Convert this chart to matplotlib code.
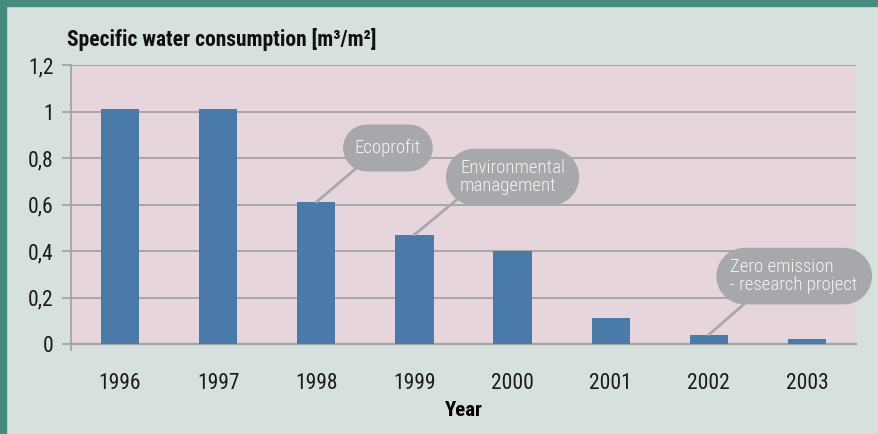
import matplotlib
matplotlib.use("Agg")
import matplotlib.pyplot as plt
from matplotlib.patches import Rectangle
from matplotlib.path import Path
import numpy as np

plt.rcParams['font.family'] = ['Roboto Condensed', 'IBM Plex Sans Condensed', 'DejaVu Sans']

# data
years = ["1996", "1997", "1998", "1999", "2000", "2001", "2002", "2003"]
consumption = [1.01, 1.01, 0.61, 0.47, 0.40, 0.11, 0.04, 0.02]
y_ticks = [0, 0.2, 0.4, 0.6, 0.8, 1.0, 1.2]
y_tick_labels = ["0", "0,2", "0,4", "0,6", "0,8", "1", "1,2"]
events = ["Ecoprofit", "Environmental\nmanagement", "Zero emission\n- research project"]
event_years = ["1998", "1999", "2002"]

teal = "#478b7f"
bg = "#d6e0dd"
plot_bg = "#e6d5dc"
bar_color = "#4a7ba8"
grid_gray = "#a3a3a3"
bubble = "#a7a8ab"


def pill(x0, y0, width, height, mutation_size):
    # stadium shaped box around the callout text
    pad_y = 0.55 * mutation_size
    h = max(height + 2 * pad_y, 2.5 * mutation_size)
    yc = y0 + height / 2
    pad_x = 0.25 * h
    w = width + 2 * pad_x
    x0 = x0 - pad_x
    r = h / 2
    t = np.linspace(-np.pi / 2, np.pi / 2, 30)
    right = np.column_stack([x0 + w - r + r * np.cos(t), yc + r * np.sin(t)])
    left = np.column_stack([x0 + r - r * np.cos(t), yc - r * np.sin(t)])
    verts = np.vstack([right, left, right[:1]])
    codes = [Path.MOVETO] + [Path.LINETO] * (len(verts) - 2) + [Path.CLOSEPOLY]
    return Path(verts, codes)


fig = plt.figure(figsize=(8.79, 4.34), dpi=100, facecolor=bg)
# teal frame on top and left
fig.patches.append(Rectangle((0, 1 - 6/434), 1, 6/434, transform=fig.transFigure, color=teal, zorder=0))
fig.patches.append(Rectangle((0, 0), 6/879, 1, transform=fig.transFigure, color=teal, zorder=0))

ax = fig.add_axes([71/879, 1 - 344/434, 785/879, 279/434])
ax.set_facecolor(plot_bg)

x = np.arange(len(years))
ax.bar(x, consumption, width=0.39, color=bar_color, zorder=3)

ax.set_xlim(-0.5, len(years) - 0.5)
ax.set_ylim(0, 1.2)
ax.set_yticks(y_ticks)
ax.set_yticklabels(y_tick_labels, fontsize=15.5, color="#1a1a1a")
ax.set_xticks(x)
ax.set_xticklabels(years, fontsize=15.5, color="#1a1a1a")
ax.tick_params(axis='x', length=0, pad=21)
ax.tick_params(axis='y', length=6.5, width=1.3, color=grid_gray, pad=6)
ax.yaxis.grid(True, color=grid_gray, linewidth=1.3, zorder=1)
ax.set_axisbelow(True)

for s in ['top', 'right']:
    ax.spines[s].set_visible(False)
ax.spines['left'].set_color(grid_gray)
ax.spines['left'].set_linewidth(1.3)
ax.spines['left'].set_bounds(-0.025, 1.2)
ax.spines['bottom'].set_color(grid_gray)
ax.spines['bottom'].set_linewidth(1.6)

ax.set_xlabel("Year", fontsize=15, fontweight='bold', labelpad=5)
fig.text(67/879, 1 - 46/434, "Specific water consumption [m³/m²]", fontsize=15.5,
         fontweight='bold', va='baseline', ha='left', color="#111111")

# callout bubbles
text_pos = [(2.73, 0.843), (4.0, 0.718), (6.87, 0.292)]
rel = [(0.38, 0.5), (0.23, 0.5), (0.36, 0.5)]
for label, yr, pos, rp in zip(events, event_years, text_pos, rel):
    i = years.index(yr)
    ax.annotate(label, xy=(i, consumption[i]), xytext=pos, textcoords='data',
                ha='center', va='center', multialignment='left',
                fontsize=13.5, fontweight='light', color="#f4f4f4", zorder=5,
                annotation_clip=False, linespacing=1.0,
                bbox=dict(boxstyle=pill, fc=bubble, ec='none'),
                arrowprops=dict(arrowstyle='-', color=bubble, lw=2, relpos=rp,
                                shrinkA=0, shrinkB=0))

fig.savefig("out.png", dpi=100, facecolor=bg)
